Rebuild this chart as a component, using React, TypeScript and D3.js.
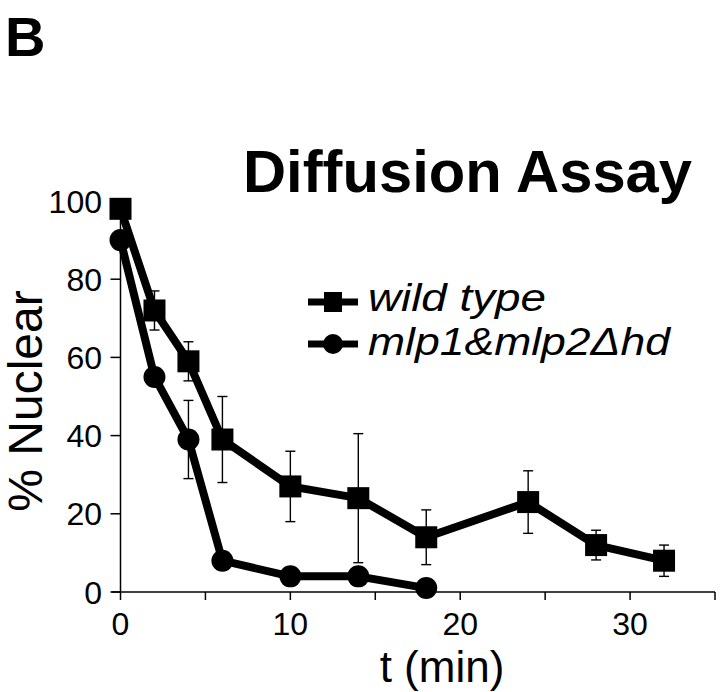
import React from "react";
import * as d3 from "d3";

const timesWT = [0, 2, 4, 6, 10, 14, 18, 24, 28, 32];
const valuesWT = [98, 72, 59, 39, 27, 24, 14, 23, 12, 8];
const errWT = [0, 5, 5, 11, 9, 16.5, 7, 8, 3.8, 4];

const timesMlp = [0, 2, 4, 6, 10, 14, 18];
const valuesMlp = [90, 55, 39, 8, 4, 4, 1];
const errMlp = [0, 0, 10, 0, 0, 0, 0];

const xTicks = [0, 5, 10, 15, 20, 25, 30, 35];
const xTickLabels = [0, 10, 20, 30];
const yTicks = [0, 20, 40, 60, 80, 100];

const seriesNames = ["wild type", "mlp1&mlp2\u0394hd"];
const titleText = "Diffusion Assay";
const panelLabel = "B";
const xLabel = "t (min)";
const yLabel = "% Nuclear";

const FONT = "'Liberation Sans', Arial, Helvetica, sans-serif";

export default function App() {
  const W = 720;
  const H = 692;
  const x = d3.scaleLinear().domain([0, 35]).range([120.5, 715]);
  const y = d3.scaleLinear().domain([0, 100]).range([592, 201]);

  const wt = timesWT.map((t, i) => ({ t, v: valuesWT[i], e: errWT[i] }));
  const ml = timesMlp.map((t, i) => ({ t, v: valuesMlp[i], e: errMlp[i] }));
  const line = d3
    .line<{ t: number; v: number }>()
    .x((d) => x(d.t))
    .y((d) => y(d.v));

  const sq = 22;
  const r = 11;
  const cap = 5;

  const errBars = (data: { t: number; v: number; e: number }[], key: string) =>
    data
      .filter((d) => d.e > 0)
      .map((d, i) => {
        const cx = x(d.t);
        const y1 = y(d.v + d.e);
        const y2 = y(d.v - d.e);
        return (
          <g key={key + i} stroke="#000" strokeWidth={1.4}>
            <line x1={cx} x2={cx} y1={y1} y2={y2} />
            <line x1={cx - cap} x2={cx + cap} y1={y1} y2={y1} />
            <line x1={cx - cap} x2={cx + cap} y1={y2} y2={y2} />
          </g>
        );
      });

  return (
    <svg
      width={W}
      height={H}
      style={{ position: "absolute", left: 0, top: 0, background: "#fff" }}
      fontFamily={FONT}
    >
      <rect width={W} height={H} fill="#fff" />
      <text x={5} y={56} fontSize={56} fontWeight="bold">
        {panelLabel}
      </text>
      <text x={243} y={192} fontSize={60} fontWeight="bold" textLength={449} lengthAdjust="spacingAndGlyphs">
        {titleText}
      </text>

      {/* axes */}
      <g stroke="#000" strokeWidth={1.5} fill="none">
        <line x1={x(0)} x2={x(0)} y1={y(100)} y2={y(0)} />
        <line x1={x(0) - 9} x2={x(35)} y1={y(0)} y2={y(0)} />
        {yTicks.map((t) => (
          <line key={"yt" + t} x1={x(0) - 10} x2={x(0)} y1={y(t)} y2={y(t)} />
        ))}
        {xTicks.map((t) => (
          <line key={"xt" + t} x1={x(t)} x2={x(t)} y1={y(0)} y2={y(0) + 8} />
        ))}
      </g>
      {yTicks.map((t) => (
        <text key={"yl" + t} x={102} y={y(t)} dy="0.36em" fontSize={32} textAnchor="end">
          {t}
        </text>
      ))}
      {xTickLabels.map((t) => (
        <text key={"xl" + t} x={x(t)} y={635} fontSize={32} textAnchor="middle">
          {t}
        </text>
      ))}
      <text x={442} y={682} fontSize={44} textAnchor="middle">
        {xLabel}
      </text>
      <text
        transform={`translate(42,401) rotate(-90)`}
        fontSize={48}
        textAnchor="middle"
      >
        {yLabel}
      </text>

      {/* error bars */}
      {errBars(wt, "ew")}
      {errBars(ml, "em")}

      {/* lines */}
      <path d={line(wt) || ""} fill="none" stroke="#000" strokeWidth={8} strokeLinejoin="round" />
      <path d={line(ml) || ""} fill="none" stroke="#000" strokeWidth={8} strokeLinejoin="round" />

      {/* markers */}
      {wt.map((d, i) => (
        <rect key={"s" + i} x={x(d.t) - sq / 2} y={y(d.v) - sq / 2} width={sq} height={sq} fill="#000" />
      ))}
      {ml.map((d, i) => (
        <circle key={"c" + i} cx={x(d.t)} cy={y(d.v)} r={r} fill="#000" />
      ))}

      {/* legend */}
      <g>
        <line x1={308} x2={358} y1={302} y2={302} stroke="#000" strokeWidth={7} />
        <rect x={333 - 9} y={302 - 10} width={18} height={20} fill="#000" />
        <text x={368} y={311} fontSize={38} fontStyle="italic" textLength={178} lengthAdjust="spacingAndGlyphs">
          {seriesNames[0]}
        </text>
        <line x1={308} x2={358} y1={344} y2={344} stroke="#000" strokeWidth={7} />
        <circle cx={333} cy={344} r={10} fill="#000" />
        <text x={368} y={355} fontSize={38} fontStyle="italic" textLength={302} lengthAdjust="spacingAndGlyphs">
          {seriesNames[1]}
        </text>
      </g>
    </svg>
  );
}
